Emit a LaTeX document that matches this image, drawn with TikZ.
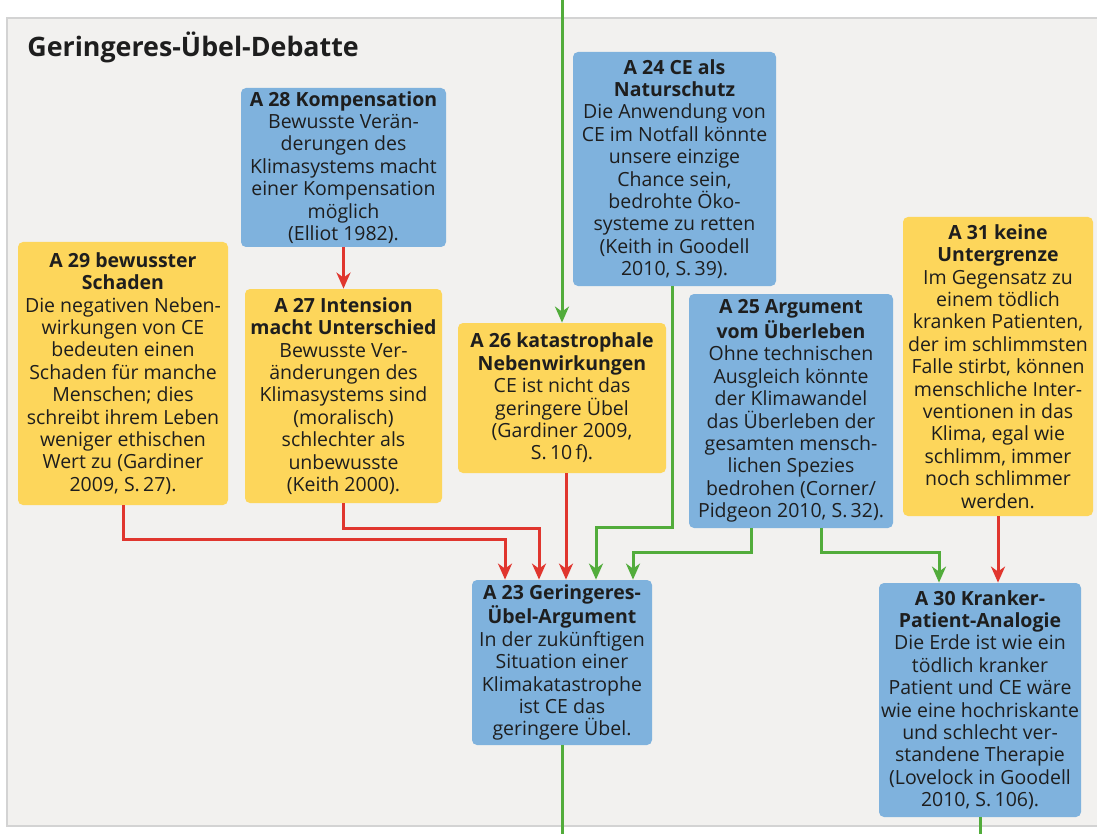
\documentclass[tikz,border=0pt]{standalone}
\usepackage{fontspec}
\setmainfont{Open Sans}
\usetikzlibrary{arrows.meta, calc}
\definecolor{argblue}{HTML}{7FB2DD}
\definecolor{argyel}{HTML}{FDD65B}
\definecolor{conred}{HTML}{E0362E}
\definecolor{progreen}{HTML}{52AC3B}
\definecolor{panelbg}{HTML}{F2F1EF}
\definecolor{panelline}{HTML}{D3D3D3}
\definecolor{argtext}{HTML}{1E1E1E}
\tikzset{
  % Kasten eines Arguments
  arg/.style={rounded corners=2.5pt, align=center, inner sep=0pt, text=argtext,
    font=\fontsize{9.75}{11.2}\selectfont},
  arg blue/.style={arg, fill=argblue},
  arg yel/.style={arg, fill=argyel},
  % Verbindungen (Angriff / Stuetzung)
  contra/.style={-{Stealth[length=8pt, width=7pt, inset=2.5pt]}, line width=1.5pt, conred},
  pro/.style={-{Stealth[length=8pt, width=7pt, inset=2.5pt]}, line width=1.5pt, progreen},
  pro line/.style={line width=1.5pt, progreen},
}
\begin{document}
\begin{tikzpicture}[x=0.5pt, y=-0.5pt]
  \useasboundingbox (0,0) rectangle (1097,834);
  % Hintergrundflaeche
  \draw[panelline, fill=panelbg, line width=1pt] (7,18) rectangle (1120,826);
  \node[anchor=base west, inner sep=0pt, font=\fontsize{13.4}{16}\selectfont\bfseries, text=argtext] (title) at (27,57) {Geringeres-Übel-Debatte};
  % linke Seite
  \node[arg blue, minimum width=102.5pt, minimum height=79.5pt] (a28) at (343.5,167.5)
    {\textbf{A 28 Kompensation}\\Bewusste Verän-\\derungen des\\Klimasystems macht\\einer Kompensation\\möglich\\(Elliot 1982).};
  \node[arg yel, minimum width=105pt, minimum height=131.5pt] (a29) at (123,373.5)
    {\textbf{A 29 bewusster}\\\textbf{Schaden}\\Die negativen Neben-\\wirkungen von CE\\bedeuten einen\\Schaden für manche\\Menschen; dies\\schreibt ihrem Leben\\weniger ethischen\\Wert zu (Gardiner\\2009, S.\,27).};
  \node[arg yel, minimum width=98.5pt, minimum height=107pt] (a27) at (343.5,396)
    {\textbf{A 27 Intension}\\\textbf{macht Unterschied}\\Bewusste Ver-\\änderungen des\\Klimasystems sind\\(moralisch)\\schlechter als\\unbewusste\\(Keith 2000).};
  % Mitte
  \node[arg yel, minimum width=104pt, minimum height=75pt] (a26) at (562,398)
    {\textbf{A 26 katastrophale}\\\textbf{Nebenwirkungen}\\CE ist nicht das\\geringere Übel\\(Gardiner 2009,\\S.\,10\,f).};
  \node[arg blue, minimum width=101.5pt, minimum height=117pt] (a24) at (674.5,169)
    {\textbf{A 24 CE als}\\\textbf{Naturschutz}\\Die Anwendung von\\CE im Notfall könnte\\unsere einzige\\Chance sein,\\bedrohte Öko-\\systeme zu retten\\(Keith in Goodell\\2010, S.\,39).};
  \node[arg blue, minimum width=102pt, minimum height=117pt] (a25) at (791,411)
    {\textbf{A 25 Argument}\\\textbf{vom Überleben}\\Ohne technischen\\Ausgleich könnte\\der Klimawandel\\das Überleben der\\gesamten mensch-\\lichen Spezies\\bedrohen (Corner/\\Pidgeon 2010, S.\,32).};
  \node[arg blue, minimum width=90pt, minimum height=82.5pt] (a23) at (562,662.5)
    {\textbf{A 23 Geringeres-}\\\textbf{Übel-Argument}\\In der zukünftigen\\Situation einer\\Klimakatastrophe\\ist CE das\\geringere Übel.};
  % rechte Seite
  \node[arg yel, minimum width=95pt, minimum height=149.5pt] (a31) at (998,366.5)
    {\textbf{A 31 keine}\\\textbf{Untergrenze}\\Im Gegensatz zu\\einem tödlich\\kranken Patienten,\\der im schlimmsten\\Falle stirbt, können\\menschliche Inter-\\ventionen in das\\Klima, egal wie\\schlimm, immer\\noch schlimmer\\werden.};
  \node[arg blue, minimum width=101pt, minimum height=117pt] (a30) at (980,700)
    {\textbf{A 30 Kranker-}\\\textbf{Patient-Analogie}\\Die Erde ist wie ein\\tödlich kranker\\Patient und CE wäre\\wie eine hochriskante\\und schlecht ver-\\standene Therapie\\(Lovelock in Goodell\\2010, S.\,106).};
  % Anschluesse ausserhalb des Ausschnitts
  \coordinate (in) at (562,0);
  \coordinate (out1) at (562,834);
  \coordinate (out2) at (980,834);
  % Angriffe
  \draw[contra] (a28.south) -- (a27.north);
  \draw[contra] (a29.south) -- ++(0,34) -| ($(a23.north)+(-57,0)$);
  \draw[contra] (a27.south) -- ++(0,25) -| ($(a23.north)+(-23,0)$);
  \draw[contra] ($(a26.south)+(4,0)$) -- ($(a23.north)+(4,0)$);
  \draw[contra] (a31.south) -- (a31.south |- a30.north);
  % Stuetzungen
  \draw[pro] (in) -- (a26.north);
  \draw[pro] ($(a24.south)+(-2,0)$) -- ++(0,241) -| ($(a23.north)+(34,0)$);
  \draw[pro] ($(a25.south)+(-40,0)$) -- ++(0,24) -| ($(a23.north)+(71,0)$);
  \draw[pro] ($(a25.south)+(30,0)$) -- ++(0,24) -| ($(a30.north)+(-41,0)$);
  \draw[pro line] (a23.south) -- (out1);
  \draw[pro line] (a30.south) -- (out2);
\end{tikzpicture}
\end{document}
